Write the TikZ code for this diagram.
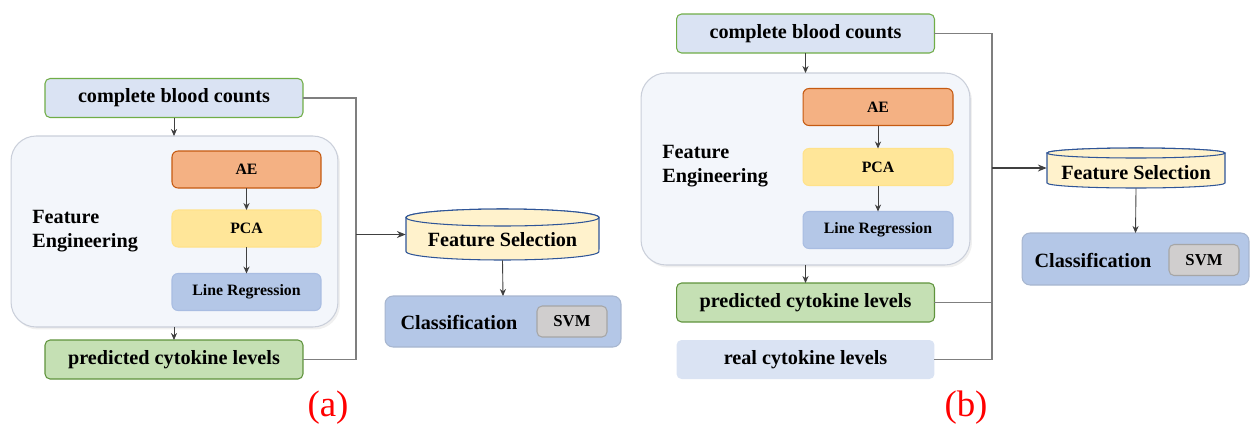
\documentclass[tikz,border=0pt]{standalone}
\usepackage{fontspec}
\setmainfont{Liberation Serif}
\usetikzlibrary{arrows.meta,shadows,calc}
\definecolor{cbcfill}{HTML}{DAE3F3}
\definecolor{greenline}{HTML}{70AD47}
\definecolor{aefill}{HTML}{F4B183}
\definecolor{aeline}{HTML}{C55A11}
\definecolor{pcafill}{HTML}{FFE699}
\definecolor{pcaline}{HTML}{FFE28A}
\definecolor{lrfill}{HTML}{B4C7E7}
\definecolor{lrline}{HTML}{A9BDE2}
\definecolor{pclfill}{HTML}{C5E0B4}
\definecolor{fefill}{HTML}{F3F6FB}
\definecolor{feline}{HTML}{CACFDA}
\definecolor{fsfill}{HTML}{FFF2CC}
\definecolor{fsline}{HTML}{2F5597}
\definecolor{clsline}{HTML}{A7B6CF}
\definecolor{svmfill}{HTML}{D0CECE}
\definecolor{svmline}{HTML}{A6A6A6}
\definecolor{connc}{HTML}{7F7F7F}
\definecolor{arrc}{HTML}{404040}
\begin{document}
\begin{tikzpicture}[x=0.02cm,y=-0.02cm,
  bigtxt/.style={font=\bfseries\fontsize{11.5}{13.6}\selectfont},
  smalltxt/.style={font=\bfseries\fontsize{9}{11}\selectfont},
  bx/.style={inner sep=0pt,outer sep=0pt,line width=0.6pt},
  wide/.style={bx,bigtxt,rounded corners=0.1cm,minimum width=5.16cm,minimum height=0.78cm},
  inner/.style={bx,smalltxt,rounded corners=0.12cm,minimum width=2.98cm,minimum height=0.74cm},
  cbcbox/.style={wide,fill=cbcfill,draw=greenline},
  pclbox/.style={wide,fill=pclfill,draw=greenline!85!black},
  realbox/.style={wide,fill=cbcfill},
  aebox/.style={inner,fill=aefill,draw=aeline},
  pcabox/.style={inner,fill=pcafill,draw=pcaline},
  lrbox/.style={inner,fill=lrfill,draw=lrline},
  febox/.style={bx,rounded corners=0.5cm,fill=fefill,draw=feline,
     drop shadow={opacity=0.12,shadow xshift=0.04cm,shadow yshift=-0.05cm}},
  fetxt/.style={bigtxt,anchor=west,align=left,inner sep=0pt},
  clsbox/.style={bx,rounded corners=0.16cm,fill=lrfill,draw=clsline},
  svmbox/.style={bx,smalltxt,font=\bfseries\fontsize{9.5}{11}\selectfont,rounded corners=0.1cm,fill=svmfill,draw=svmline,minimum width=1.4cm,minimum height=0.62cm},
  cyl/.style={fill=fsfill,draw=fsline,line width=0.6pt},
  conn/.style={draw=connc,line width=0.6pt},
  arr/.style={draw=arrc,line width=0.5pt,-{Stealth[length=4pt,width=3.5pt]}},
  carr/.style={draw=arrc,line width=0.6pt,-{Stealth[length=5pt,width=4pt]}},
  lbl/.style={text=red,font=\fontsize{21}{24}\selectfont,inner sep=0pt}
]
\useasboundingbox (0,0) rectangle (1250,427);

% ================= panel (a) =================
\node[febox,minimum width=6.54cm,minimum height=3.82cm] (feA) at (174.5,231.5) {};
\node[cbcbox] (cbcA) at (174,98) {complete blood counts};
\node[aebox] (aeA) at (246.5,169.5) {AE};
\node[pcabox] (pcaA) at (246.5,228.5) {PCA};
\node[lrbox] (lrA) at (246.5,292) {Line Regression};
\node[fetxt] (fetA) at (32,231) {Feature\\Engineering};
\node[pclbox] (pclA) at (174,359.5) {predicted cytokine levels};

% Feature selection cylinder (a)
\draw[cyl] (406,217.5) -- (406,251.5) arc[start angle=180,end angle=360,x radius=1.93cm,y radius=0.17cm]
  -- (599,217.5) arc[start angle=0,end angle=180,x radius=1.93cm,y radius=0.17cm] -- cycle;
\draw[cyl] (502.5,217.5) ellipse[x radius=1.93cm,y radius=0.17cm];
\node[inner sep=0pt,minimum width=3.86cm,minimum height=1.02cm] (fsA) at (502.5,234.5) {};
\node[bigtxt,inner sep=0pt] (fstA) at (502.5,240) {Feature Selection};

\node[clsbox,minimum width=4.72cm,minimum height=1.02cm] (clsA) at (503,321.5) {};
\node[bigtxt,inner sep=0pt] (clstA) at (459,322) {Classification};
\node[svmbox] (svmA) at (572,321.5) {SVM};

\draw[arr] (cbcA.south) -- (cbcA.south |- feA.north);
\draw[arr] (pclA.north |- feA.south) -- (pclA.north);
\draw[arr] (aeA.south) -- (pcaA.north);
\draw[arr] (pcaA.south) -- (lrA.north);
\coordinate (jA) at (356,234.5);
\draw[conn] (cbcA.east) -| (jA);
\draw[conn] (pclA.east) -| (jA);
\draw[carr] (jA) -- (fsA.west);
\draw[arr] (fsA.south) -- (clsA.north);

\node[lbl] (labA) at (328,408) {(a)};

% ================= panel (b) =================
\node[febox,minimum width=6.58cm,minimum height=3.84cm] (feB) at (805.5,169) {};
\node[cbcbox] (cbcB) at (805.5,33.5) {complete blood counts};
\node[aebox,minimum width=3.0cm] (aeB) at (878,107) {AE};
\node[pcabox,minimum width=3.0cm] (pcaB) at (878,167) {PCA};
\node[lrbox,minimum width=3.0cm] (lrB) at (878,230) {Line Regression};
\node[fetxt] (fetB) at (662,166) {Feature\\Engineering};
\node[pclbox] (pclB) at (805.5,302.5) {predicted cytokine levels};
\node[realbox] (realB) at (805.5,359.5) {real cytokine levels};

% Feature selection cylinder (b)
\draw[cyl] (1047,153) -- (1047,183) arc[start angle=180,end angle=360,x radius=1.78cm,y radius=0.1cm]
  -- (1225,153) arc[start angle=0,end angle=180,x radius=1.78cm,y radius=0.1cm] -- cycle;
\draw[cyl] (1136,153) ellipse[x radius=1.78cm,y radius=0.1cm];
\node[inner sep=0pt,minimum width=3.56cm,minimum height=0.8cm] (fsB) at (1136,168) {};
\node[bigtxt,inner sep=0pt] (fstB) at (1136,172.5) {Feature Selection};

\node[clsbox,minimum width=4.54cm,minimum height=1.04cm] (clsB) at (1135.5,259) {};
\node[bigtxt,inner sep=0pt] (clstB) at (1093,260) {Classification};
\node[svmbox] (svmB) at (1204,260) {SVM};

\draw[arr] (cbcB.south) -- (cbcB.south |- feB.north);
\draw[arr] (pclB.north |- feB.south) -- (pclB.north);
\draw[arr] (aeB.south) -- (pcaB.north);
\draw[arr] (pcaB.south) -- (lrB.north);
\coordinate (jB) at (992,168);
\draw[conn] (cbcB.east) -| (jB);
\draw[conn] (realB.east) -| (jB);
\draw[conn] (pclB.east) -- (pclB.east -| jB);
\draw[carr] (jB) -- (fsB.west);
\draw[arr] (fsB.south) -- (clsB.north);

\node[lbl] (labB) at (966,408) {(b)};
\end{tikzpicture}
\end{document}
